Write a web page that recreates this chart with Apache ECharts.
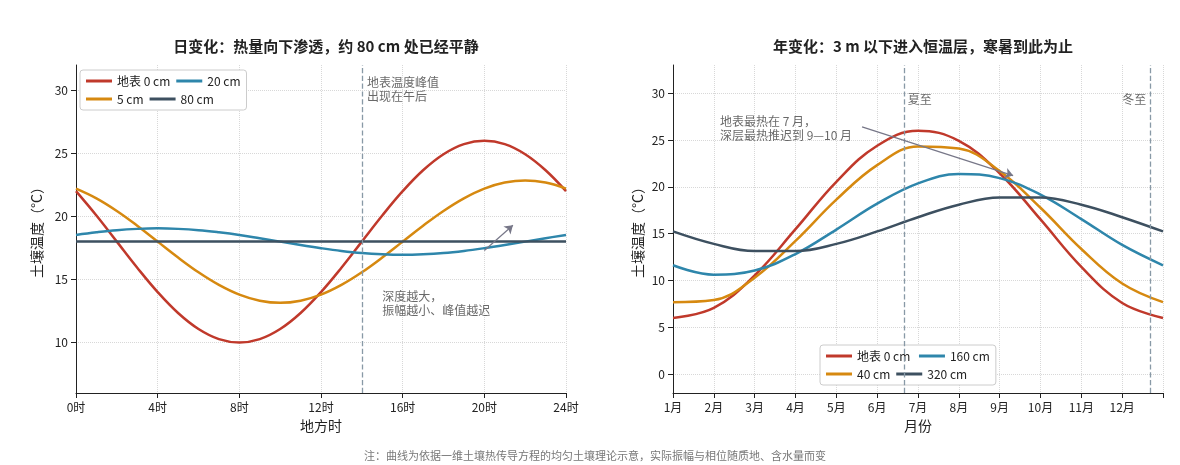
<!DOCTYPE html>
<html>
<head>
<meta charset="utf-8">
<script src="https://cdn.jsdelivr.net/npm/echarts@6/dist/echarts.min.js"></script>
<style>
  html, body { margin: 0; padding: 0; background: #fff; }
  #chart { width: 1180px; height: 465px; }
</style>
</head>
<body>
<div id="chart"></div>
<script>
// 日变化（每小时）
var hours = [0,1,2,3,4,5,6,7,8,9,10,11,12,13,14,15,16,17,18,19,20,21,22,23,24];
var day0 = [22,20.07,18,15.93,14,12.34,11.07,10.27,10,10.27,11.07,12.34,14,15.93,18,20.07,22,23.66,24.93,25.73,26,25.73,24.93,23.66,22];
var day5 = [22.2,21.43,20.43,19.26,18,16.74,15.57,14.57,13.8,13.32,13.15,13.32,13.8,14.57,15.57,16.74,18,19.26,20.43,21.43,22.2,22.68,22.85,22.68,22.2];
var day20 = [18.53,18.74,18.91,19.01,19.05,19.01,18.91,18.74,18.53,18.27,18,17.73,17.48,17.26,17.09,16.99,16.95,16.99,17.09,17.26,17.48,17.73,18,18.27,18.53];
var day80 = [18,18,18,18,18,18,18,18,18,18,18,18,18,18,18,18,18,18,18,18,18,18,18,18,18];
var dayTicks = [10, 15, 20, 25, 30];

// 年变化（每月）
var months = [1,2,3,4,5,6,7,8,9,10,11,12,13];
var year0 = [6.01,7.09,10.55,15.48,20.54,24.39,25.99,24.91,21.45,16.52,11.46,7.61,6.01];
var year40 = [7.69,7.92,10.31,14.23,18.63,22.32,24.31,24.08,21.69,17.77,13.37,9.68,7.69];
var year160 = [11.63,10.63,11.07,12.83,15.44,18.2,20.37,21.37,20.93,19.17,16.56,13.8,11.63];
var year320 = [15.24,13.91,13.15,13.15,13.91,15.24,16.76,18.09,18.85,18.85,18.09,16.76,15.24];
var yearTicks = [0, 5, 10, 15, 20, 25, 30];

var colors = ['#c0392b', '#d68910', '#2e86ab', '#3d5060'];
var font = 'Noto Sans CJK SC';

function pairs(xs, ys) { return xs.map(function (x, i) { return [x, ys[i]]; }); }

function line(name, xi, data, color) {
    return {
        name: name, type: 'line', xAxisIndex: xi, yAxisIndex: xi,
        data: data, smooth: 0.4, showSymbol: false,
        lineStyle: {width: 2.5, color: color}, itemStyle: {color: color}
    };
}

var split = {show: true, lineStyle: {type: 'dotted', color: '#d8d8d8'}};
var axisBase = {
    axisLine: {show: true, onZero: false, lineStyle: {color: '#222'}},
    axisTick: {show: true, lineStyle: {color: '#222'}},
    axisLabel: {color: '#222', fontFamily: font, fontSize: 12},
    splitLine: split,
    nameTextStyle: {color: '#222', fontFamily: font, fontSize: 14}
};

var chart = echarts.init(document.getElementById('chart'));
var s = [
    line('地表 0 cm', 0, pairs(hours, day0), colors[0]),
    line('5 cm', 0, pairs(hours, day5), colors[1]),
    line('20 cm', 0, pairs(hours, day20), colors[2]),
    line('80 cm', 0, pairs(hours, day80), colors[3]),
    line('地表 0 cm ', 1, pairs(months, year0), colors[0]),
    line('40 cm', 1, pairs(months, year40), colors[1]),
    line('160 cm', 1, pairs(months, year160), colors[2]),
    line('320 cm', 1, pairs(months, year320), colors[3])
];

var dashLine = {type: 'dashed', color: '#8899a6', width: 1.3};
s[0].markLine = {
    silent: true, symbol: 'none', lineStyle: dashLine,
    label: {show: false},
    data: [{xAxis: 14}]
};
s[3].markLine = {
    silent: true, symbol: ['none', 'arrow'], symbolSize: 8,
    lineStyle: {color: '#778', width: 1.2, type: 'solid', curveness: -0.25},
    label: {show: false},
    data: [[{coord: [20, 17.3]}, {coord: [21.4, 19.3]}]]
};
s[4].markLine = {
    silent: true, symbol: 'none', lineStyle: dashLine,
    label: {show: false},
    data: [{xAxis: 6.67}, {xAxis: 12.69}]
};
s[7].markLine = {
    silent: true, symbol: ['none', 'arrow'], symbolSize: 8,
    lineStyle: {color: '#778', width: 1.2, type: 'solid', curveness: -0.15},
    label: {show: false},
    data: [[{coord: [5.63, 26.4]}, {coord: [9.33, 21.2]}]]
};

function note(xi, x, y, text) {
    return {
        type: 'scatter', xAxisIndex: xi, yAxisIndex: xi, silent: true,
        symbolSize: 0, data: [[x, y]],
        label: {show: true, formatter: text, position: 'right', distance: 0,
            color: '#444', fontFamily: font, fontSize: 12, lineHeight: 14}
    };
}
s.push(note(0, 14.25, 30.1, '地表温度峰值\n出现在午后'));
s.push(note(0, 15, 13.1, '深度越大，\n振幅越小、峰值越迟'));
s.push(note(1, 2.15, 26.2, '地表最热在 7 月，\n深层最热推迟到 9—10 月'));
s.push(note(1, 6.75, 29.3, '夏至'));
s.push(note(1, 12.0, 29.3, '冬至'));

var legendStyle = {
    itemWidth: 26, itemHeight: 3, itemGap: 6,
    textStyle: {fontFamily: font, fontSize: 12, color: '#222', width: 64},
    backgroundColor: '#fff', borderColor: '#ccc', borderWidth: 1, borderRadius: 3,
    padding: [5, 6], icon: 'rect'
};

chart.setOption({
    backgroundColor: '#fff',
    animation: false,
    title: [
        {text: '日变化：热量向下渗透，约 80 cm 处已经平静', left: 321, top: 34, textAlign: 'center',
            textStyle: {fontFamily: font, fontSize: 15, fontWeight: 'bold', color: '#222'}},
        {text: '年变化：3 m 以下进入恒温层，寒暑到此为止', left: 918, top: 34, textAlign: 'center',
            textStyle: {fontFamily: font, fontSize: 15, fontWeight: 'bold', color: '#222'}},
        {text: '注：曲线为依据一维土壤热传导方程的均匀土壤理论示意，实际振幅与相位随质地、含水量而变',
            left: 590, top: 445, textAlign: 'center',
            textStyle: {fontFamily: font, fontSize: 11, fontWeight: 'normal', color: '#777'}}
    ],
    legend: [
        Object.assign({data: ['地表 0 cm', '20 cm', '5 cm', '80 cm'], left: 80, top: 70, width: 200}, legendStyle),
        Object.assign({data: ['地表 0 cm ', '160 cm', '40 cm', '320 cm'], left: 820, top: 345, width: 200}, legendStyle)
    ],
    grid: [
        {left: 76, right: 614, top: 65, bottom: 72},
        {left: 673, right: 17, top: 65, bottom: 72}
    ],
    xAxis: [
        Object.assign({}, axisBase, {type: 'value', gridIndex: 0, min: 0, max: 24, interval: 4,
            name: '地方时', nameLocation: 'middle', nameGap: 26,
            axisLabel: Object.assign({}, axisBase.axisLabel, {formatter: '{value}时'})}),
        Object.assign({}, axisBase, {type: 'value', gridIndex: 1, min: 1, max: 13, interval: 1,
            name: '月份', nameLocation: 'middle', nameGap: 26,
            axisLabel: Object.assign({}, axisBase.axisLabel, {
                formatter: function (v) { return v <= 12 ? v + '月' : ''; }})})
    ],
    yAxis: [
        Object.assign({}, axisBase, {type: 'value', gridIndex: 0, min: 6, max: 32,
            name: '土壤温度（°C）', nameLocation: 'middle', nameGap: 32,
            axisTick: {show: true, customValues: dayTicks, lineStyle: {color: '#222'}},
            axisLabel: Object.assign({}, axisBase.axisLabel, {customValues: dayTicks})}),
        Object.assign({}, axisBase, {type: 'value', gridIndex: 1, min: -2, max: 33,
            name: '土壤温度（°C）', nameLocation: 'middle', nameGap: 28,
            axisTick: {show: true, customValues: yearTicks, lineStyle: {color: '#222'}},
            axisLabel: Object.assign({}, axisBase.axisLabel, {customValues: yearTicks})})
    ],
    series: s
});
</script>
</body>
</html>
